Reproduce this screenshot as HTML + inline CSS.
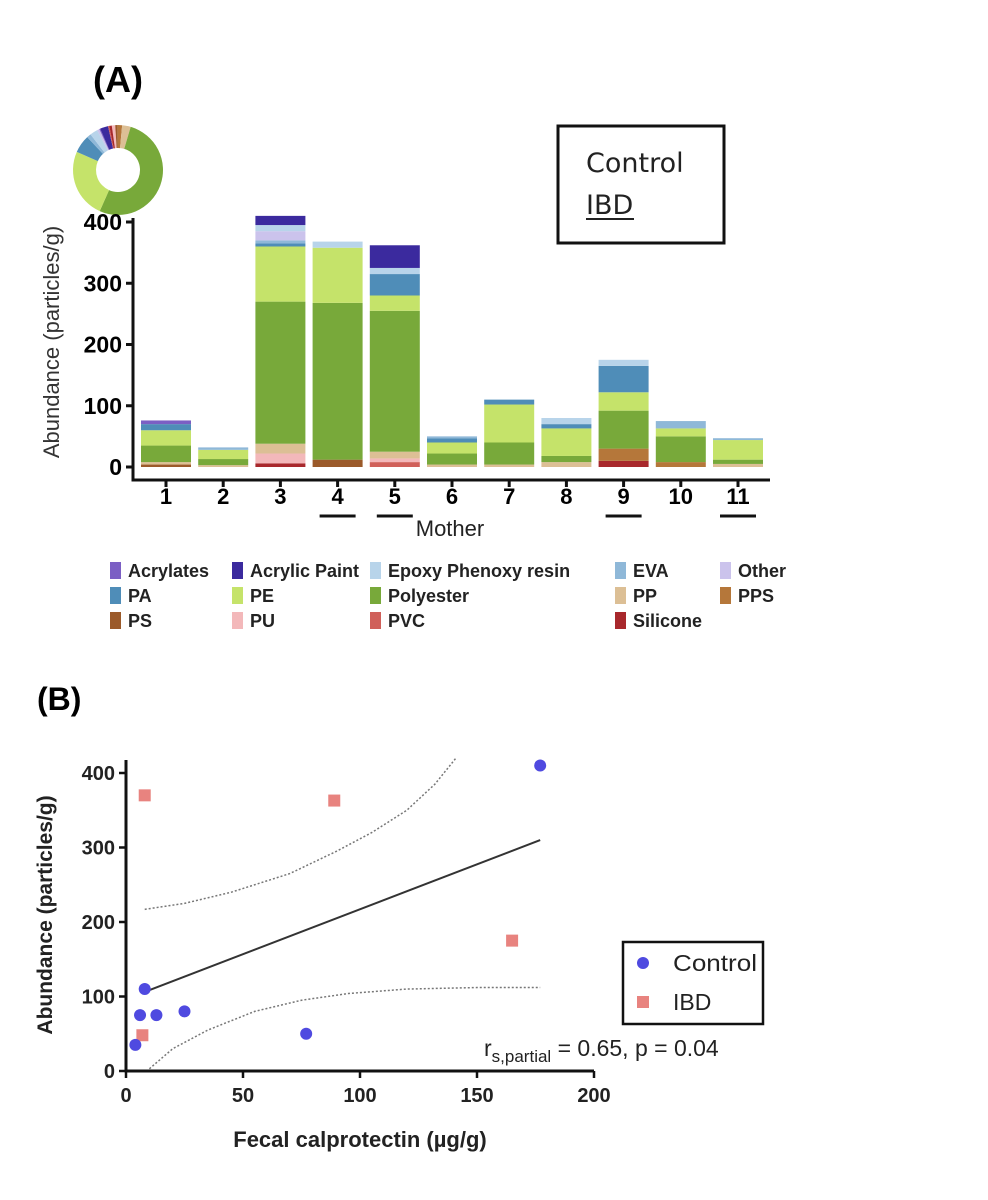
<!DOCTYPE html>
<html><head><meta charset="utf-8">
<style>
html,body{margin:0;padding:0;background:#fff;}
svg{display:block;font-family:"Liberation Sans",Arial,sans-serif;}
</style></head>
<body>
<svg id="fig" width="988" height="1200" viewBox="0 0 988 1200" xmlns="http://www.w3.org/2000/svg">
  <text x="93" y="92" font-size="36" font-weight="bold">(A)</text>
  <text x="37" y="710" font-size="32" font-weight="bold">(B)</text>
  <g id="donut"></g>
  <g id="barchart"></g>
  <g>
    <rect x="558" y="126" width="166" height="117" fill="none" stroke="#111" stroke-width="3"/>
    <text x="586" y="172" font-size="27" fill="#222" font-family="DejaVu Sans, sans-serif">Control</text>
    <text x="586" y="214" font-size="27" fill="#222" font-family="DejaVu Sans, sans-serif">IBD</text>
    <line x1="586" y1="219" x2="634" y2="219" stroke="#222" stroke-width="2"/>
  </g>
  <g id="legendA"></g>
  <g id="scatter"></g>
</svg>
<script>
const NS="http://www.w3.org/2000/svg";
function mk(tag,attrs,parent,txt){const e=document.createElementNS(NS,tag);for(const k in attrs)e.setAttribute(k,attrs[k]);if(txt!==undefined)e.textContent=txt;parent.appendChild(e);return e;}

// ---------- Panel A data ----------
const polymers=["Acrylates","Acrylic Paint","Epoxy Phenoxy resin","EVA","Other","PA","PE","Polyester","PP","PPS","PS","PU","PVC","Silicone"];
const polymerColors=["#7b5fc4","#3b2a9e","#b8d4ea","#8fb8d8","#cbc3ec","#4f8db8","#c5e36a","#78a93a","#dcbf95","#b5773a","#9b5a2a","#f3b8ba","#d0605a","#a8282c"];
const mothers=["1","2","3","4","5","6","7","8","9","10","11"];
const ibdMothers=["4","5","9","11"];
const stackOrder=["Silicone","PVC","PS","PPS","PU","PP","Polyester","PE","PA","EVA","Other","Epoxy Phenoxy resin","Acrylates","Acrylic Paint"];
const valSilicone=[0,0,6,0,0,0,0,0,10,0,0];
const valPVC=[0,0,0,0,8,0,0,0,0,0,0];
const valPS=[4,0,0,12,0,0,0,0,0,0,0];
const valPPS=[0,0,0,0,0,0,0,0,20,8,0];
const valPU=[0,0,16,0,6,0,0,0,0,0,0];
const valPP=[4,3,16,0,11,4,4,8,0,0,5];
const valPolyester=[27,10,232,256,230,18,36,10,62,42,7];
const valPE=[25,15,90,90,25,18,62,45,30,13,32];
const valPA=[10,0,5,0,35,7,8,7,43,0,0];
const valEVA=[0,4,5,0,0,3,0,0,0,12,3];
const valOther=[0,0,15,0,0,0,0,0,0,0,0];
const valEpoxy=[0,0,10,10,10,0,0,10,10,0,0];
const valAcrylates=[6,0,0,0,0,0,0,0,0,0,0];
const valAcrylicPaint=[0,0,15,0,37,0,0,0,0,0,0];
const seriesByName={"Silicone":valSilicone,"PVC":valPVC,"PS":valPS,"PPS":valPPS,"PU":valPU,"PP":valPP,"Polyester":valPolyester,"PE":valPE,"PA":valPA,"EVA":valEVA,"Other":valOther,"Epoxy Phenoxy resin":valEpoxy,"Acrylates":valAcrylates,"Acrylic Paint":valAcrylicPaint};
const yTicksA=[0,100,200,300,400];
const donutOrder=["PU","PS","PPS","PP","Polyester","PE","PA","EVA","Epoxy Phenoxy resin","Other","Acrylates","Acrylic Paint","PVC","Silicone"];

const colorOf=n=>polymerColors[polymers.indexOf(n)];
const yA=v=>467-v*0.6125;
const xA=i=>166+i*57.2;
const bw=50;

const bc=document.getElementById('barchart');
mothers.forEach((m,i)=>{
  let cum=0;
  const g=mk('g',{},bc);
  
  
  stackOrder.forEach(s=>{
    const v=seriesByName[s][i];
    if(v<=0)return;
    const r=mk('rect',{x:xA(i)-bw/2,y:yA(cum+v),width:bw,height:yA(cum)-yA(cum+v),fill:colorOf(s)},g);
    
    
    cum+=v;
  });
});
const ax=mk('path',{d:"M133 218 V480 H770",fill:"none",stroke:"#111","stroke-width":3},bc);


yTicksA.forEach(t=>{
  mk('line',{x1:126,x2:133,y1:yA(t),y2:yA(t),stroke:"#111","stroke-width":3},bc);
  const tx=mk('text',{x:122,y:yA(t)+8,"font-size":23,"font-weight":"bold","text-anchor":"end"},bc,String(t));
  
  
});
mothers.forEach((m,i)=>{
  mk('line',{x1:xA(i),x2:xA(i),y1:480,y2:487,stroke:"#111","stroke-width":3},bc);
  const tx=mk('text',{x:xA(i),y:504,"font-size":22,"font-weight":"bold","text-anchor":"middle"},bc,m);
  
  
  if(ibdMothers.includes(m)) mk('line',{x1:xA(i)-18,x2:xA(i)+18,y1:516,y2:516,stroke:"#111","stroke-width":3},bc);
});
const xt=mk('text',{x:450,y:536,"font-size":22,"text-anchor":"middle",fill:"#222"},bc,"Mother");


const yt=mk('text',{x:0,y:0,"font-size":22,"text-anchor":"middle",fill:"#333",transform:"translate(59,342) rotate(-90)"},bc,"Abundance (particles/g)");



// donut
const dg=document.getElementById('donut');
const totals={};
let grand=0;
polymers.forEach(p=>{const t=seriesByName[p].reduce((a,b)=>a+b,0);totals[p]=t;grand+=t;});
let ang=-8*Math.PI/180;
const cx=118,cy=170,R=45,r0=22;
donutOrder.forEach(p=>{
  const a1=ang+totals[p]/grand*2*Math.PI;
  const large=(a1-ang)>Math.PI?1:0;
  const p1=[cx+R*Math.sin(ang),cy-R*Math.cos(ang)],p2=[cx+R*Math.sin(a1),cy-R*Math.cos(a1)];
  const p3=[cx+r0*Math.sin(a1),cy-r0*Math.cos(a1)],p4=[cx+r0*Math.sin(ang),cy-r0*Math.cos(ang)];
  const s=mk('path',{d:`M${p1} A${R} ${R} 0 ${large} 1 ${p2} L${p3} A${r0} ${r0} 0 ${large} 0 ${p4}Z`,fill:colorOf(p)},dg);
  
  
  ang=a1;
});

// legend A
const lg=document.getElementById('legendA');
const legendLayout=[["Acrylates","Acrylic Paint","Epoxy Phenoxy resin","EVA","Other"],["PA","PE","Polyester","PP","PPS"],["PS","PU","PVC","Silicone",null]];
const legCols=[110,232,370,615,720];
legendLayout.forEach((row,ri)=>{
  row.forEach((p,ci)=>{
    if(!p)return;
    const x=legCols[ci];
    const y=562+ri*25;
    const g=mk('g',{},lg);
    
    
    mk('rect',{x:x,y:y,width:11,height:17,fill:colorOf(p)},g);
    mk('text',{x:x+18,y:y+15,"font-size":18,"font-weight":"bold",fill:"#222"},g,p);
  });
});

// ---------- Panel B data ----------
const controlX=[177,8,6,13,25,4,77];
const controlY=[410,110,75,75,80,35,50];
const ibdX=[8,89,165,7];
const ibdY=[370,363,175,48];
const fitX=[7,177];
const fitY=[105,310];
const ciUpperX=[8,25,45,70,90,105,120,132,141];
const ciUpperY=[217,225,240,265,295,320,350,385,420];
const ciLowerX=[10,20,35,55,75,95,120,150,177];
const ciLowerY=[3,30,55,80,95,104,110,112,112];
const xTicksB=[0,50,100,150,200];
const yTicksB=[0,100,200,300,400];

const xB=v=>126+v*2.34;
const yB=v=>1071-v*0.745;
const sc=document.getElementById('scatter');
const axb=mk('path',{d:"M126 760 V1071 H594",fill:"none",stroke:"#111","stroke-width":3},sc);


xTicksB.forEach(t=>{
  mk('line',{x1:xB(t),x2:xB(t),y1:1071,y2:1078,stroke:"#111","stroke-width":2.5},sc);
  const tx=mk('text',{x:xB(t),y:1102,"font-size":20,"font-weight":"bold","text-anchor":"middle",fill:"#222"},sc,String(t));
  
  
});
yTicksB.forEach(t=>{
  mk('line',{x1:119,x2:126,y1:yB(t),y2:yB(t),stroke:"#111","stroke-width":2.5},sc);
  const tx=mk('text',{x:115,y:yB(t)+7,"font-size":20,"font-weight":"bold","text-anchor":"end",fill:"#222"},sc,String(t));
  
  
});
const xtb=mk('text',{x:360,y:1147,"font-size":22,"font-weight":"bold","text-anchor":"middle",fill:"#222"},sc,"Fecal calprotectin (µg/g)");


const ytb=mk('text',{x:0,y:0,"font-size":21,"font-weight":"bold","text-anchor":"middle",fill:"#222",transform:"translate(52,915) rotate(-90)"},sc,"Abundance (particles/g)");


const pathOf=(xs,ys)=>xs.map((x,i)=>(i?'L':'M')+xB(x)+' '+yB(ys[i])).join(' ');
const up=mk('path',{d:pathOf(ciUpperX,ciUpperY),fill:"none",stroke:"#777","stroke-width":1.5,"stroke-dasharray":"2 2"},sc);


const lo=mk('path',{d:pathOf(ciLowerX,ciLowerY),fill:"none",stroke:"#777","stroke-width":1.5,"stroke-dasharray":"2 2"},sc);


const fit=mk('path',{d:pathOf(fitX,fitY),fill:"none",stroke:"#333","stroke-width":2},sc);


ibdX.forEach((x,i)=>{
  const r=mk('rect',{x:xB(x)-6,y:yB(ibdY[i])-6,width:12,height:12,fill:"#e8837f"},sc);
  
  
});
controlX.forEach((x,i)=>{
  const c=mk('circle',{cx:xB(x),cy:yB(controlY[i]),r:6,fill:"#4f4ae0"},sc);
  
  
});
const lb=mk('g',{},sc);


mk('rect',{x:623,y:942,width:140,height:82,fill:"#fff",stroke:"#111","stroke-width":2.5},lb);
mk('circle',{cx:643,cy:963,r:6,fill:"#4f4ae0"},lb);
mk('text',{x:673,y:971,"font-size":23,fill:"#222",textLength:84,lengthAdjust:"spacingAndGlyphs"},lb,"Control");
mk('rect',{x:637,y:996,width:12,height:12,fill:"#e8837f"},lb);
mk('text',{x:673,y:1010,"font-size":23,fill:"#222"},lb,"IBD");
const st=mk('text',{x:484,y:1056,"font-size":23,fill:"#222"},sc);


mk('tspan',{},st,"r");
mk('tspan',{dy:6,"font-size":17},st,"s,partial");
mk('tspan',{dy:-6},st," = 0.65, p = 0.04");
</script>
</body></html>
